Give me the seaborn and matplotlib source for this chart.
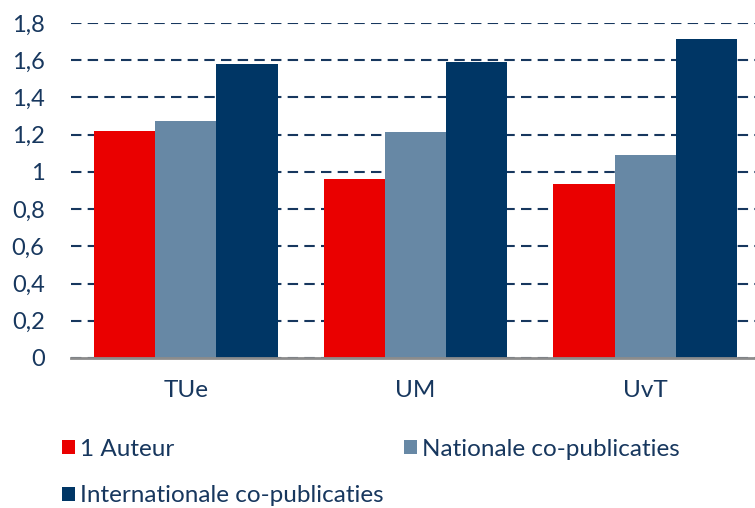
import matplotlib
matplotlib.use("Agg")
import matplotlib.pyplot as plt
import seaborn as sns
import pandas as pd

# data
universities = ["TUe", "UM", "UvT"]
series = ["1 Auteur", "Nationale co-publicaties", "Internationale co-publicaties"]
een_auteur = [1.22, 0.96, 0.935]
nationaal = [1.275, 1.213, 1.093]
internationaal = [1.58, 1.59, 1.714]
yticks = [0, 0.2, 0.4, 0.6, 0.8, 1.0, 1.2, 1.4, 1.6, 1.8]
ytick_labels = ["0", "0,2", "0,4", "0,6", "0,8", "1", "1,2", "1,4", "1,6", "1,8"]

colors = ["#EA0000", "#6788A5", "#003665"]
navy = "#17375E"

rows = []
for name, vals in zip(series, [een_auteur, nationaal, internationaal]):
    for uni, v in zip(universities, vals):
        rows.append({"uni": uni, "serie": name, "waarde": v})
df = pd.DataFrame(rows)

sns.set_style("white")
plt.rcParams["font.family"] = ["Lato", "DejaVu Sans"]

fig = plt.figure(figsize=(7.55, 5.08), dpi=100)
ax = fig.add_axes([71 / 755, 150 / 508, 689 / 755, 335 / 508])

sns.barplot(data=df, x="uni", y="waarde", hue="serie", hue_order=series,
            palette=colors, saturation=1, width=0.8, linewidth=0, ax=ax)

ax.set_xlim(-0.5, 2.5)
ax.set_ylim(0, 1.8)
ax.set_yticks(yticks)
ax.set_yticklabels(ytick_labels)
ax.set_xlabel("")
ax.set_ylabel("")
ax.tick_params(axis="y", length=0, pad=19, labelsize=17, labelcolor=navy)
ax.tick_params(axis="x", length=0, pad=16, labelsize=17.5, labelcolor=navy)

for s in ["left", "right", "top"]:
    ax.spines[s].set_visible(False)
ax.spines["bottom"].set_color("#8C8C8C")
ax.spines["bottom"].set_linewidth(2)

ax.set_axisbelow(True)
ax.yaxis.grid(True, color=navy, linewidth=1.5, linestyle=(0, (5, 3)))
ax.xaxis.grid(False)

handles, labels = ax.get_legend_handles_labels()
ax.get_legend().remove()

spots = [(62 / 755, 1 - 449 / 508), (404 / 755, 1 - 449 / 508), (62 / 755, 1 - 496 / 508)]
for h, l, pos in zip(handles, labels, spots):
    leg = fig.legend([h], [l], loc="center left", bbox_to_anchor=pos,
                     frameon=False, fontsize=17.5, handlelength=0.55, handleheight=0.55,
                     handletextpad=0.2, borderpad=0, borderaxespad=0)
    for t in leg.get_texts():
        t.set_color(navy)

fig.savefig("out.png", dpi=100)
